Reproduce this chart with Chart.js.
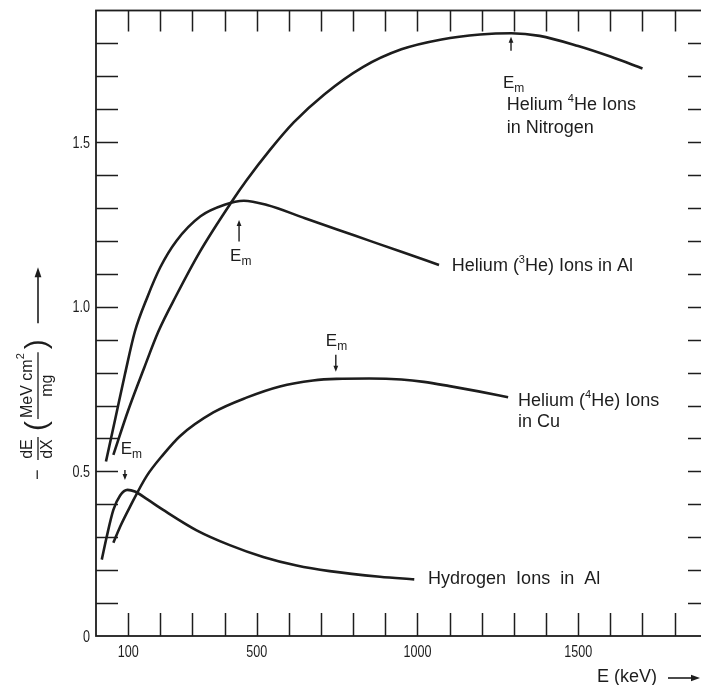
<!DOCTYPE html>
<html>
<head>
<meta charset="utf-8">
<title>Stopping power of light ions</title>
<script src="https://cdn.jsdelivr.net/npm/chart.js@4.4.1/dist/chart.umd.min.js"></script>
<style>
  html, body { margin: 0; padding: 0; background: #fff; width: 701px; height: 685px; overflow: hidden; }
  /* the frame's right edge lies just past the page edge in the original scan */
  #wrap { position: absolute; left: 0; top: 0; width: 712px; height: 685px; }
</style>
</head>
<body>
<div id="wrap"><canvas id="main-chart"></canvas></div>
<script>
// ── Data (energy in keV, -dE/dX in MeV cm²/mg) ────────────────────────────────
const N_HE4_E = [54, 100, 150, 194, 250, 323, 422, 469, 540, 615, 710, 830, 950, 1075, 1195, 1292, 1380, 1500, 1600, 1700];
const N_HE4_S = [0.55, 0.685, 0.815, 0.925, 1.035, 1.167, 1.319, 1.385, 1.475, 1.56, 1.645, 1.728, 1.782, 1.812, 1.827, 1.831, 1.823, 1.792, 1.76, 1.724];

const AL_HE3_E = [31, 60, 90, 121, 160, 200, 250, 325, 400, 460, 532, 650, 750, 850, 950, 1067];
const AL_HE3_S = [0.53, 0.66, 0.795, 0.925, 1.03, 1.12, 1.2, 1.275, 1.31, 1.322, 1.309, 1.269, 1.235, 1.201, 1.167, 1.127];

const CU_HE4_E = [54, 75, 106, 157, 209, 261, 365, 468, 572, 675, 748, 850, 950, 1020, 1100, 1190, 1282];
const CU_HE4_S = [0.283, 0.332, 0.393, 0.485, 0.551, 0.607, 0.679, 0.724, 0.758, 0.776, 0.781, 0.782, 0.779, 0.772, 0.759, 0.743, 0.725];

const AL_H_E = [18, 33, 54, 75, 98, 121, 160, 209, 313, 416, 520, 624, 727, 883, 990];
const AL_H_S = [0.232, 0.30, 0.383, 0.427, 0.444, 0.439, 0.415, 0.383, 0.321, 0.276, 0.24, 0.214, 0.197, 0.18, 0.172];

// Axis ticks and the few that carry numbers
const X_TICKS  = [100, 200, 300, 400, 500, 600, 700, 800, 900, 1000, 1100, 1200, 1300, 1400, 1500, 1600, 1700, 1800];
const X_LABELS = [100, 500, 1000, 1500];
const Y_TICKS  = [0.1, 0.2, 0.3, 0.4, 0.5, 0.6, 0.7, 0.8, 0.9, 1.0, 1.1, 1.2, 1.3, 1.4, 1.5, 1.6, 1.7, 1.8];
const Y_LABELS = [0, 0.5, 1.0, 1.5];
const X_MAX = 1910;
const Y_MAX = 1.9;

// ── Styling ───────────────────────────────────────────────────────────────────
const INK  = "#1d1d1d";
const FONT = "'Liberation Sans', Arial, sans-serif";

// Curve captions and E_m markers, placed in data units
const CAPTIONS = [
  { x: 1278, y: 1.618, parts: [["Helium ", 18], ["4", 11, -8], ["He Ions", 18]] },
  { x: 1278, y: 1.547, parts: [["in Nitrogen", 18]] },
  { x: 1107, y: 1.127, parts: [["Helium (", 18], ["3", 11, -8], ["He) Ions in Al", 18]] },
  { x: 1313, y: 0.717, parts: [["Helium (", 18], ["4", 11, -8], ["He) Ions", 18]] },
  { x: 1313, y: 0.656, parts: [["in Cu", 18]] },
  { x: 1033, y: 0.179, parts: [["Hydrogen  Ions  in  Al", 18]] },
];
const EM_MARKS = [
  { tx: 1266, ty: 1.683, ax: 1291, from: 1.778, to: 1.820 },
  { tx: 417,  ty: 1.157, ax: 445,  from: 1.198, to: 1.264 },
  { tx: 715,  ty: 0.899, ax: 746,  from: 0.854, to: 0.803 },
  { tx: 77,   ty: 0.570, ax: 90,   from: 0.504, to: 0.474 },
];

// ── Drawing helpers ───────────────────────────────────────────────────────────
function rich(ctx, parts, x, y) {
  let cx = x;
  parts.forEach(([t, size, dy]) => {
    ctx.font = `${size}px ${FONT}`;
    ctx.fillText(t, cx, y + (dy || 0));
    cx += ctx.measureText(t).width;
  });
  return cx - x;
}

function arrow(ctx, x1, y1, x2, y2, head = 6, half = 2.6) {
  const a = Math.atan2(y2 - y1, x2 - x1);
  ctx.beginPath();
  ctx.moveTo(x1, y1);
  ctx.lineTo(x2 - Math.cos(a) * head * 0.6, y2 - Math.sin(a) * head * 0.6);
  ctx.stroke();
  ctx.beginPath();
  ctx.moveTo(x2, y2);
  ctx.lineTo(x2 - Math.cos(a) * head + Math.sin(a) * half, y2 - Math.sin(a) * head - Math.cos(a) * half);
  ctx.lineTo(x2 - Math.cos(a) * head - Math.sin(a) * half, y2 - Math.sin(a) * head + Math.cos(a) * half);
  ctx.closePath();
  ctx.fill();
}

function narrowText(ctx, t, x, y, align) {
  ctx.save();
  ctx.translate(x, y);
  ctx.scale(0.74, 1);
  ctx.textAlign = align;
  ctx.fillText(t, 0, 0);
  ctx.restore();
}

function fmtY(v) { return v === 0 ? "0" : v.toFixed(1); }

// ── Frame, inward ticks, labels and annotations ───────────────────────────────
const paperAxes = {
  id: "paperAxes",
  afterDraw(chart) {
    const { ctx, chartArea: a, scales: { x, y } } = chart;
    ctx.save();
    ctx.strokeStyle = INK;
    ctx.fillStyle = INK;
    ctx.lineCap = "butt";

    // frame
    ctx.lineWidth = 1.8;
    ctx.strokeRect(a.left, a.top, a.right - a.left, a.bottom - a.top);

    // inward tick marks on all four sides
    ctx.lineWidth = 1.5;
    ctx.beginPath();
    X_TICKS.forEach(v => {
      const px = Math.round(x.getPixelForValue(v)) + 0.5;
      ctx.moveTo(px, a.bottom); ctx.lineTo(px, a.bottom - 23);
      ctx.moveTo(px, a.top);    ctx.lineTo(px, a.top + 21);
    });
    Y_TICKS.forEach(v => {
      const py = Math.round(y.getPixelForValue(v)) + 0.5;
      ctx.moveTo(a.left, py);  ctx.lineTo(a.left + 22, py);
      ctx.moveTo(a.right, py); ctx.lineTo(a.right - 22, py);
    });
    ctx.stroke();

    // tick numbers
    ctx.font = `17px ${FONT}`;
    ctx.textBaseline = "middle";
    X_LABELS.forEach(v => narrowText(ctx, String(v), x.getPixelForValue(v), a.bottom + 16, "center"));
    Y_LABELS.forEach(v => narrowText(ctx, fmtY(v), a.left - 6, y.getPixelForValue(v) + 1, "right"));

    // x title with arrow
    ctx.font = `18px ${FONT}`;
    ctx.textAlign = "left";
    ctx.fillText("E (keV)", 597, 677);
    ctx.lineWidth = 1.6;
    arrow(ctx, 668, 678, 700, 678, 9, 3.2);

    // y title, rotated: − dE/dX (MeV cm²/mg) →
    ctx.save();
    ctx.translate(37, 480);
    ctx.rotate(-Math.PI / 2);
    ctx.textBaseline = "middle";
    ctx.textAlign = "left";
    ctx.font = `18px ${FONT}`;
    ctx.fillText("\u2212", 0, 1);
    ctx.font = `16px ${FONT}`;
    ctx.textAlign = "center";
    ctx.fillText("dE", 31, -9);
    ctx.fillText("dX", 31, 11);
    ctx.lineWidth = 1.3;
    ctx.beginPath(); ctx.moveTo(20, 1); ctx.lineTo(43, 1); ctx.stroke();
    ctx.font = `30px ${FONT}`;
    ctx.fillText("(", 54, 1);
    ctx.textAlign = "left";
    const w = rich(ctx, [["MeV cm", 16, -9], ["2", 11, -16]], 62, 0);
    ctx.textAlign = "center";
    ctx.font = `16px ${FONT}`;
    ctx.fillText("mg", 62 + w / 2, 11);
    ctx.beginPath(); ctx.moveTo(61, 1); ctx.lineTo(63 + w, 1); ctx.stroke();
    ctx.font = `30px ${FONT}`;
    ctx.fillText(")", 71 + w, 1);
    ctx.lineWidth = 1.6;
    arrow(ctx, 92 + w, 1, 148 + w, 1, 10, 3.4);
    ctx.restore();

    // curve captions
    ctx.textAlign = "left";
    ctx.textBaseline = "alphabetic";
    CAPTIONS.forEach(c => rich(ctx, c.parts, x.getPixelForValue(c.x), y.getPixelForValue(c.y) + 6.5));

    // E_m markers
    ctx.lineWidth = 1.4;
    EM_MARKS.forEach(m => {
      rich(ctx, [["E", 17], ["m", 12, 4]], x.getPixelForValue(m.tx), y.getPixelForValue(m.ty) + 6);
      const ax = x.getPixelForValue(m.ax);
      arrow(ctx, ax, y.getPixelForValue(m.from), ax, y.getPixelForValue(m.to), 6, 2.4);
    });
    ctx.restore();
  },
};

// ── Chart ─────────────────────────────────────────────────────────────────────
function series(es, vs) {
  return {
    data: es.map((e, i) => ({ x: e, y: vs[i] })),
    borderColor: INK,
    borderWidth: 2.6,
    pointRadius: 0,
    cubicInterpolationMode: "monotone",
    fill: false,
  };
}

function renderChart() {
  const ctx = document.getElementById("main-chart");
  new Chart(ctx, {
    type: "line",
    data: {
      datasets: [
        series(N_HE4_E, N_HE4_S),
        series(AL_HE3_E, AL_HE3_S),
        series(CU_HE4_E, CU_HE4_S),
        series(AL_H_E, AL_H_S),
      ],
    },
    options: {
      responsive: true,
      maintainAspectRatio: false,
      animation: false,
      layout: { padding: { left: 96, right: 2, top: 10.5, bottom: 49 } },
      plugins: { legend: { display: false }, tooltip: { enabled: false } },
      scales: {
        x: { type: "linear", min: 0, max: X_MAX, display: false },
        y: { type: "linear", min: 0, max: Y_MAX, display: false },
      },
    },
    plugins: [paperAxes],
  });
}

document.addEventListener("DOMContentLoaded", renderChart);
</script>
</body>
</html>
